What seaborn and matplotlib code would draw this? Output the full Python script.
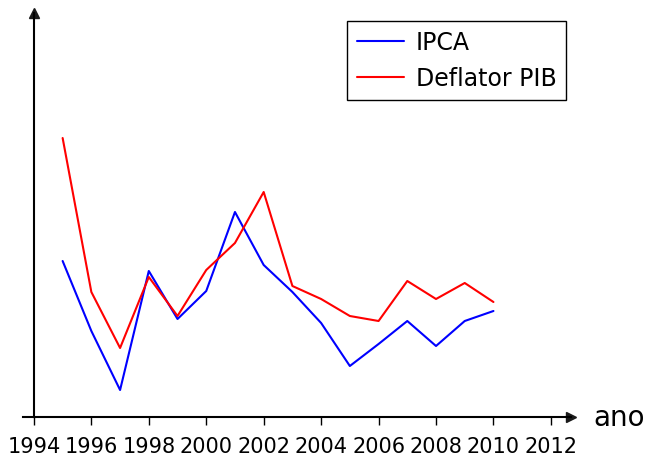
import matplotlib
matplotlib.use("Agg")
import matplotlib.pyplot as plt
import seaborn as sns
import pandas as pd

years = list(range(1995, 2011))
ipca = [15.6, 8.6, 2.7, 14.6, 9.8, 12.6, 20.5, 15.2, 12.5, 9.4, 5.1, 7.3, 9.6, 7.1, 9.6, 10.6]
deflator = [27.9, 12.5, 6.9, 14.0, 10.1, 14.7, 17.4, 22.5, 13.1, 11.8, 10.1, 9.6, 13.6, 11.8, 13.4, 11.5]
series_names = ["IPCA", "Deflator PIB"]
xticks = list(range(1994, 2013, 2))

df = pd.DataFrame({
    "ano": years * 2,
    "valor": ipca + deflator,
    "serie": [series_names[0]] * len(years) + [series_names[1]] * len(years),
})

sns.set_theme(style="white")
plt.rcParams["font.family"] = ["DejaVu Sans"]
plt.rcParams["text.color"] = "black"
plt.rcParams["axes.labelcolor"] = "black"
plt.rcParams["xtick.color"] = "black"

fig = plt.figure(figsize=(6.49, 4.60), dpi=100)
ax = fig.add_axes([23 / 649, 1 - 418 / 460, (571 - 23) / 649, (418 - 14) / 460])

sns.lineplot(data=df, x="ano", y="valor", hue="serie",
             palette={"IPCA": "#0000ff", "Deflator PIB": "#ff0000"},
             linewidth=1.5, ax=ax, legend=True)

ax.set_xlim(1993.62, 2012.70)
ax.set_ylim(0, 40.4)
ax.spines["left"].set_position(("data", 1994))
ax.spines["top"].set_visible(False)
ax.spines["right"].set_visible(False)
for s in ["left", "bottom"]:
    ax.spines[s].set_color("black")
    ax.spines[s].set_linewidth(1.5)

ax.set_xticks(xticks)
ax.set_xticklabels([str(t) for t in xticks], fontsize=15)
ax.set_yticks([])
ax.tick_params(axis="x", direction="out", length=6, width=1, color="black",
               pad=8, bottom=True, labelcolor="black")
ax.set_ylabel("")
ax.set_xlabel("ano", fontsize=20, color="black", ha="left", va="center")
ax.xaxis.set_label_coords(1.04, 0.0)

ax.plot(1, 0, ">k", ms=7, transform=ax.get_yaxis_transform(), clip_on=False)
ax.plot(1994, 1, "^k", ms=7, transform=ax.get_xaxis_transform(), clip_on=False)

leg = ax.legend(loc="upper right", bbox_to_anchor=(566 / 649, 1 - 22 / 460),
                bbox_transform=fig.transFigure, borderaxespad=0, fontsize=17,
                frameon=True, fancybox=False, framealpha=1, edgecolor="black",
                handletextpad=0.5, handlelength=2.0, title=None)
leg.get_frame().set_linewidth(1.0)
for t in leg.get_texts():
    t.set_color("black")

fig.savefig("out.png", dpi=100)
